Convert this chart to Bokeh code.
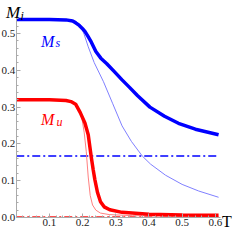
from bokeh.plotting import figure
from bokeh.models import Range1d, FixedTicker, Label
from bokeh.embed import file_html
from bokeh.resources import INLINE

# ---- data ----
ms_T = [0, 0.1, 0.15, 0.17, 0.179, 0.19, 0.2, 0.207, 0.215, 0.226, 0.24, 0.255, 0.273, 0.295, 0.319, 0.34, 0.366, 0.403, 0.447, 0.489, 0.54, 0.61]
ms_thick = [0.538, 0.538, 0.537, 0.534, 0.529, 0.522, 0.513, 0.506, 0.494, 0.477, 0.451, 0.433, 0.418, 0.397, 0.374, 0.355, 0.331, 0.30, 0.275, 0.256, 0.24, 0.225]

ms_thin_T = [0, 0.1, 0.16, 0.18, 0.193, 0.205, 0.217, 0.235, 0.263, 0.291, 0.319, 0.347, 0.38, 0.405, 0.45, 0.5, 0.55, 0.61]
ms_thin = [0.538, 0.538, 0.537, 0.533, 0.524, 0.497, 0.464, 0.421, 0.369, 0.309, 0.249, 0.207, 0.167, 0.145, 0.115, 0.09, 0.072, 0.055]

mu_T = [0, 0.1, 0.15, 0.165, 0.179, 0.193, 0.207, 0.217, 0.226, 0.232, 0.237, 0.245, 0.254, 0.265, 0.282, 0.319, 0.4, 0.5, 0.61]
mu_thick = [0.32, 0.32, 0.318, 0.315, 0.308, 0.285, 0.257, 0.225, 0.165, 0.13, 0.103, 0.068, 0.043, 0.029, 0.021, 0.014, 0.009, 0.007, 0.006]

mu_thin_T = [0, 0.1, 0.15, 0.165, 0.179, 0.19, 0.198, 0.205, 0.211, 0.217, 0.223, 0.23, 0.24, 0.254, 0.28, 0.35, 0.45, 0.61]
mu_thin = [0.32, 0.32, 0.318, 0.315, 0.305, 0.29, 0.27, 0.23, 0.18, 0.11, 0.06, 0.034, 0.02, 0.012, 0.008, 0.005, 0.004, 0.003]

ref_T = [0, 0.61]
ms_ref = [0.167, 0.167]
mu_ref = [0.002, 0.002]

x_ticks = [0.1, 0.2, 0.3, 0.4, 0.5, 0.6]
x_tick_labels = ["0.1", "0.2", "0.3", "0.4", "0.5", "0.6"]
y_ticks = [0.0, 0.1, 0.2, 0.3, 0.4, 0.5]
y_tick_labels = ["0.0", "0.1", "0.2", "0.3", "0.4", "0.5"]

serif = "Liberation Serif"

p = figure(width=233, height=230, x_range=Range1d(-0.0475, 0.655), y_range=Range1d(-0.0353, 0.5897),
           output_backend="svg", toolbar_location=None,
           min_border_left=0, min_border_right=0, min_border_top=0, min_border_bottom=0)
p.grid.visible = False
p.outline_line_color = None
p.background_fill_color = "white"
p.border_fill_color = "white"

# axes (Mathematica-style, crossing at the origin)
xminor = [round(i * 0.02, 2) for i in range(0, 31) if i % 5 != 0]
yminor = [round(i * 0.02, 2) for i in range(0, 28) if i % 5 != 0]
p.xaxis.ticker = FixedTicker(ticks=x_ticks, minor_ticks=xminor)
p.yaxis.ticker = FixedTicker(ticks=y_ticks, minor_ticks=yminor)
p.xaxis.major_label_overrides = {t: l for t, l in zip(x_ticks, x_tick_labels)}
p.yaxis.major_label_overrides = {t: l for t, l in zip(y_ticks, y_tick_labels)}
p.xaxis.fixed_location = 0
p.yaxis.fixed_location = 0
p.xaxis.bounds = (0, 0.615)
p.yaxis.bounds = (0, 0.546)
for ax in (p.xaxis[0], p.yaxis[0]):
    ax.axis_line_color = "#aaaaaa"
    ax.axis_line_width = 1
    ax.major_tick_line_color = "#aaaaaa"
    ax.minor_tick_line_color = "#aaaaaa"
    ax.major_tick_in = 4
    ax.major_tick_out = 0
    ax.minor_tick_in = 2
    ax.minor_tick_out = 0
    ax.major_label_text_font = serif
    ax.major_label_text_font_size = "11px"
    ax.major_label_text_color = "#222222"
p.yaxis.major_label_standoff = 1
p.xaxis.major_label_standoff = 1

# curves
p.line(ref_T, ms_ref, line_color="#0000ff", line_width=1.5, line_dash="8 3 2 3")
p.line(ref_T, mu_ref, line_color="#ff5050", line_width=1.5, line_dash="8 3 2 3")
p.line(ms_thin_T, ms_thin, line_color="#8080ff", line_width=1)
p.line(mu_thin_T, mu_thin, line_color="#ff8080", line_width=1)
p.line(ms_T, ms_thick, line_color="#0000ff", line_width=3.5)
p.line(mu_T, mu_thick, line_color="#ff0000", line_width=3.5)

def lab(x, y, t, size, color, style="italic"):
    p.add_layout(Label(x=x, y=y, text=t, text_font=serif, text_font_size=size,
                       text_color=color, text_font_style=style, text_baseline="alphabetic",
                       text_align="left"))

lab(-0.031, 0.557, "M", "17px", "black")
lab(0.013, 0.5485, "i", "12px", "black")
lab(0.0748, 0.477, "M", "16px", "#0000ff")
lab(0.118, 0.473, "s", "12px", "#0000ff")
lab(0.0748, 0.265, "M", "16px", "#ff0000")
lab(0.121, 0.260, "u", "12px", "#ff0000")
lab(0.62, -0.011, "T", "16px", "black", "normal")

open("out.html", "w").write(file_html(p, INLINE))
